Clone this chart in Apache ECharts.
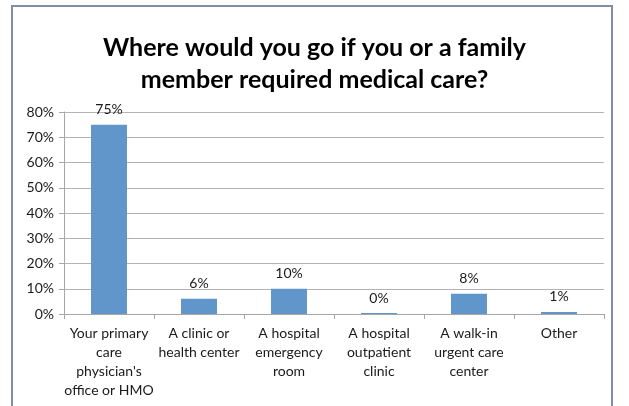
<!DOCTYPE html>
<html>
<head>
<meta charset="utf-8">
<script src="https://cdn.jsdelivr.net/npm/echarts@6/dist/echarts.min.js"></script>
<style>
html,body{margin:0;padding:0;background:#fff;}
#chart{width:629px;height:406px;}
</style>
</head>
<body>
<div id="chart"></div>
<script>
var categories = ["Your primary\ncare\nphysician's\noffice or HMO", "A clinic or\nhealth center", "A hospital\nemergency\nroom", "A hospital\noutpatient\nclinic", "A walk-in\nurgent care\ncenter", "Other"];
var values = [75, 6, 10, 0.4, 8, 0.8];
var valueLabels = ["75%", "6%", "10%", "0%", "8%", "1%"];
var titleText = "Where would you go if you or a family\nmember required medical care?";

var FONT = "Lato, 'Open Sans', sans-serif";
var chart = echarts.init(document.getElementById('chart'), null, {renderer: 'canvas'});
chart.setOption({
  animation: false,
  backgroundColor: '#fff',
  graphic: [{
    type: 'rect',
    shape: {x: 12, y: 6, width: 600, height: 420},
    style: {fill: 'none', stroke: '#7f8fa6', lineWidth: 2},
    silent: true
  }],
  title: {
    text: titleText,
    left: 'center',
    top: 27,
    textStyle: {fontFamily: FONT, fontWeight: 'bold', fontSize: 25, lineHeight: 32, color: '#000'}
  },
  grid: {left: 64, right: 25, top: 112, bottom: 92, containLabel: false},
  xAxis: {
    type: 'category',
    data: categories,
    axisLine: {lineStyle: {color: '#a6a6a6'}},
    axisTick: {show: true, alignWithLabel: false, length: 5, lineStyle: {color: '#a6a6a6'}},
    axisLabel: {interval: 0, fontFamily: FONT, fontSize: 14, lineHeight: 19, color: '#1a1a1a', margin: 10}
  },
  yAxis: {
    type: 'value',
    min: 0, max: 80, interval: 10,
    axisLine: {show: true, lineStyle: {color: '#a6a6a6'}},
    axisTick: {show: true, length: 5, lineStyle: {color: '#a6a6a6'}},
    splitLine: {lineStyle: {color: '#b3b3b3'}},
    axisLabel: {formatter: '{value}%', fontFamily: FONT, fontSize: 14, color: '#1a1a1a', margin: 10}
  },
  series: [{
    type: 'bar',
    data: values,
    barWidth: '40%',
    itemStyle: {color: '#6196cb'},
    label: {
      show: true, position: 'top', distance: 8,
      fontFamily: FONT, fontSize: 14, color: '#1a1a1a',
      formatter: function(p){ return valueLabels[p.dataIndex]; }
    }
  }]
});
</script>
</body>
</html>
